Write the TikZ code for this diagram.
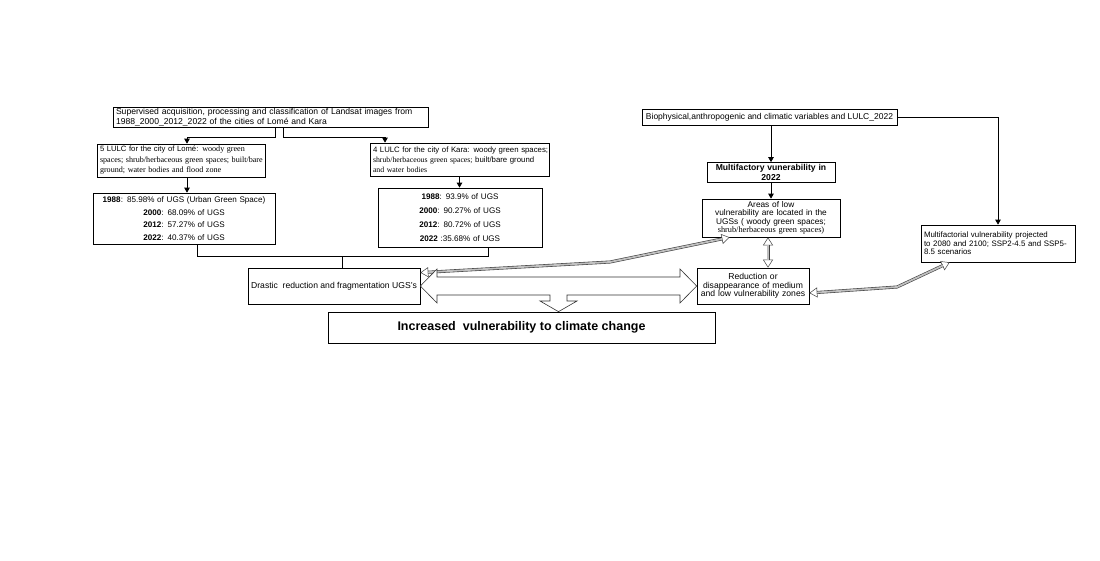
\documentclass[tikz,border=0pt]{standalone}
\usepackage{fontspec}
\setmainfont{Liberation Sans}
\newfontfamily\seriff{Liberation Serif}
\usetikzlibrary{arrows.meta,calc}
\newcommand\srfa{\seriff\fontsize{8.1}{10.5}\selectfont}
\newcommand\srfb{\seriff\fontsize{7.8}{10}\selectfont}
\newcommand\srfc{\seriff\fontsize{8.3}{8.4}\selectfont}
\begin{document}
\begin{tikzpicture}[x=1pt,y=-1pt,
  box/.style={draw=black, line width=0.7pt, inner ysep=0pt, inner xsep=3pt},
  arr/.style={-{Triangle[length=5pt,width=5.5pt]}, line width=0.8pt},
  ln/.style={line width=0.7pt},
  ghead/.style={line width=0.5pt, draw=black!75, {Triangle[length=8pt,width=10pt,fill=white]}-{Triangle[length=8pt,width=10pt,fill=white]}},
  gshaft/.style={line width=0.6pt, draw=black!75, double=gray!50, double distance=1.8pt, shorten <=7.5pt, shorten >=7.5pt},
  tarrow/.style={draw=black!80, line width=0.6pt, fill=white, line join=miter},
]
\useasboundingbox (0,0) rectangle (1100,560);

% boxes
\node[box, text width=309pt, minimum height=20.5pt, align=left, font=\fontsize{8.6}{9.5}\selectfont] (top) at (270.5,117.3)
  {\mbox{Supervised acquisition, processing and classification of Landsat images from}\\\mbox{1988\_2000\_2012\_2022 of the cities of Lomé and Kara}};
\node[box, text width=162pt, minimum height=33pt, align=left, font=\fontsize{7.7}{10.5}\selectfont] (lomL) at (181,160.5)
  {\mbox{5 LULC for the city of Lomé: {\srfa woody green}}\\\mbox{\srfa spaces; shrub/herbaceous green spaces; built/bare}\\\mbox{\srfa ground; water bodies and flood zone}};
\node[box, text width=176pt, minimum height=51pt, align=center, font=\fontsize{8.1}{12.7}\selectfont] (lomS) at (184,218.5)
  {\textbf{1988}: 85.98\% of UGS (Urban Green Space)\\\textbf{2000}: 68.09\% of UGS\\\textbf{2012}: 57.27\% of UGS\\\textbf{2022}: 40.37\% of UGS};
\node[box, text width=173pt, minimum height=33pt, align=left, font=\fontsize{7.8}{10}\selectfont] (karL) at (459.5,159.5)
  {\mbox{4 LULC for the city of Kara: woody green spaces;}\\\mbox{{\srfb shrub/herbaceous green spaces;} built/bare ground}\\\mbox{\srfb and water bodies}};
\node[box, text width=158pt, minimum height=59pt, align=center, font=\fontsize{8.1}{14}\selectfont] (karS) at (460,217.5)
  {\textbf{1988}: 93.9\% of UGS\\\textbf{2000}: 90.27\% of UGS\\\textbf{2012}: 80.72\% of UGS\\\textbf{2022} :35.68\% of UGS};
\node[box, minimum width=172pt, minimum height=36pt, font=\fontsize{8.6}{10}\selectfont] (dras) at (334,286)
  {Drastic\ \ reduction and fragmentation UGS's};
\node[box, minimum width=387pt, minimum height=31pt, font=\fontsize{12.5}{14}\selectfont\bfseries] (incr) at (521.5,327.5)
  {Increased\ \ vulnerability to climate change};
\node[box, minimum width=255pt, minimum height=16pt, font=\fontsize{8.5}{10}\selectfont] (bio) at (769.5,117.5)
  {Biophysical,anthropogenic and climatic variables and LULC\_2022};
\node[box, text width=122pt, minimum height=20pt, align=center, font=\fontsize{8.6}{9.2}\selectfont\bfseries] (mf) at (771,172.5)
  {Multifactory vunerability in\\2022};
\node[box, text width=132pt, minimum height=38pt, align=center, font=\fontsize{8.3}{8.4}\selectfont] (areas) at (771,218)
  {Areas of low\\\mbox{vulnerability are located in the}\\\mbox{UGSs ( woody green spaces;}\\\mbox{\srfc shrub/herbaceous green spaces)}};
\node[box, text width=106pt, minimum height=36pt, align=center, font=\fontsize{8.6}{8.5}\selectfont] (reduc) at (753,286)
  {Reduction or\\\mbox{disappearance of medium}\\\mbox{and low vulnerability zones}};
\node[box, text width=148pt, minimum height=37pt, align=left, font=\fontsize{7.9}{8.5}\selectfont] (m2) at (998,243.5)
  {\mbox{Multifactorial vulnerability projected}\\\mbox{to 2080 and 2100; SSP2-4.5 and SSP5-}\\\mbox{8.5 scenarios}};

% helper coordinates
\coordinate (lx) at (187,0);
\coordinate (bl) at (197,256);
\coordinate (br) at (488,256);
\coordinate (bm) at (342,256);
\coordinate (g1) at (610,262);
\coordinate (vx) at (768,0);
\coordinate (g3) at (897,287);

% black connectors
\draw[arr] ([xshift=4.5pt]top.south) -- ++(0,9.5) -| ([xshift=6pt]lomL.north);
\draw[arr] ([xshift=12.5pt]top.south) -- ++(0,9.5) -| ([xshift=-74.5pt]karL.north);
\draw[arr] (lomL.south -| lx) -- (lomS.north -| lx);
\draw[arr] (karL.south) -- (karL.south |- karS.north);
\draw[ln] (lomS.south -| bl) -- (bl) -- (br) -- (karS.south -| br);
\draw[ln] (bm) -- (dras.north -| bm);
\draw[arr] (bio.south -| mf.north) -- (mf.north);
\draw[arr] (mf.south) -- (areas.north);
\draw[arr] (bio.east) -| (m2.north);

% gray double arrows
\draw[ghead] ($(dras.north east)+(0,5)$) -- (g1) -- ($(areas.south west)+(28,0)$);
\draw[gshaft] ($(dras.north east)+(0,5)$) -- (g1) -- ($(areas.south west)+(28,0)$);
\draw[ghead] (areas.south -| vx) -- (reduc.north -| vx);
\draw[gshaft] (areas.south -| vx) -- (reduc.north -| vx);
\draw[ghead] ($(reduc.east)+(0,7)$) -- (g3) -- ($(m2.south west)+(29,0)$);
\draw[gshaft] ($(reduc.east)+(0,7)$) -- (g3) -- ($(m2.south west)+(29,0)$);

% big hollow three-way arrow
\draw[tarrow] (dras.east) -- (437,269) -- (437,277) -- (680,277) -- (680,269) -- (reduc.west)
  -- (680,303) -- (680,295) -- (567,295) -- (567,301) -- (577,301) -- ($(incr.north)+(37,0)$)
  -- (540,301) -- (550,301) -- (550,295) -- (437,295) -- (437,303) -- cycle;
\end{tikzpicture}
\end{document}
